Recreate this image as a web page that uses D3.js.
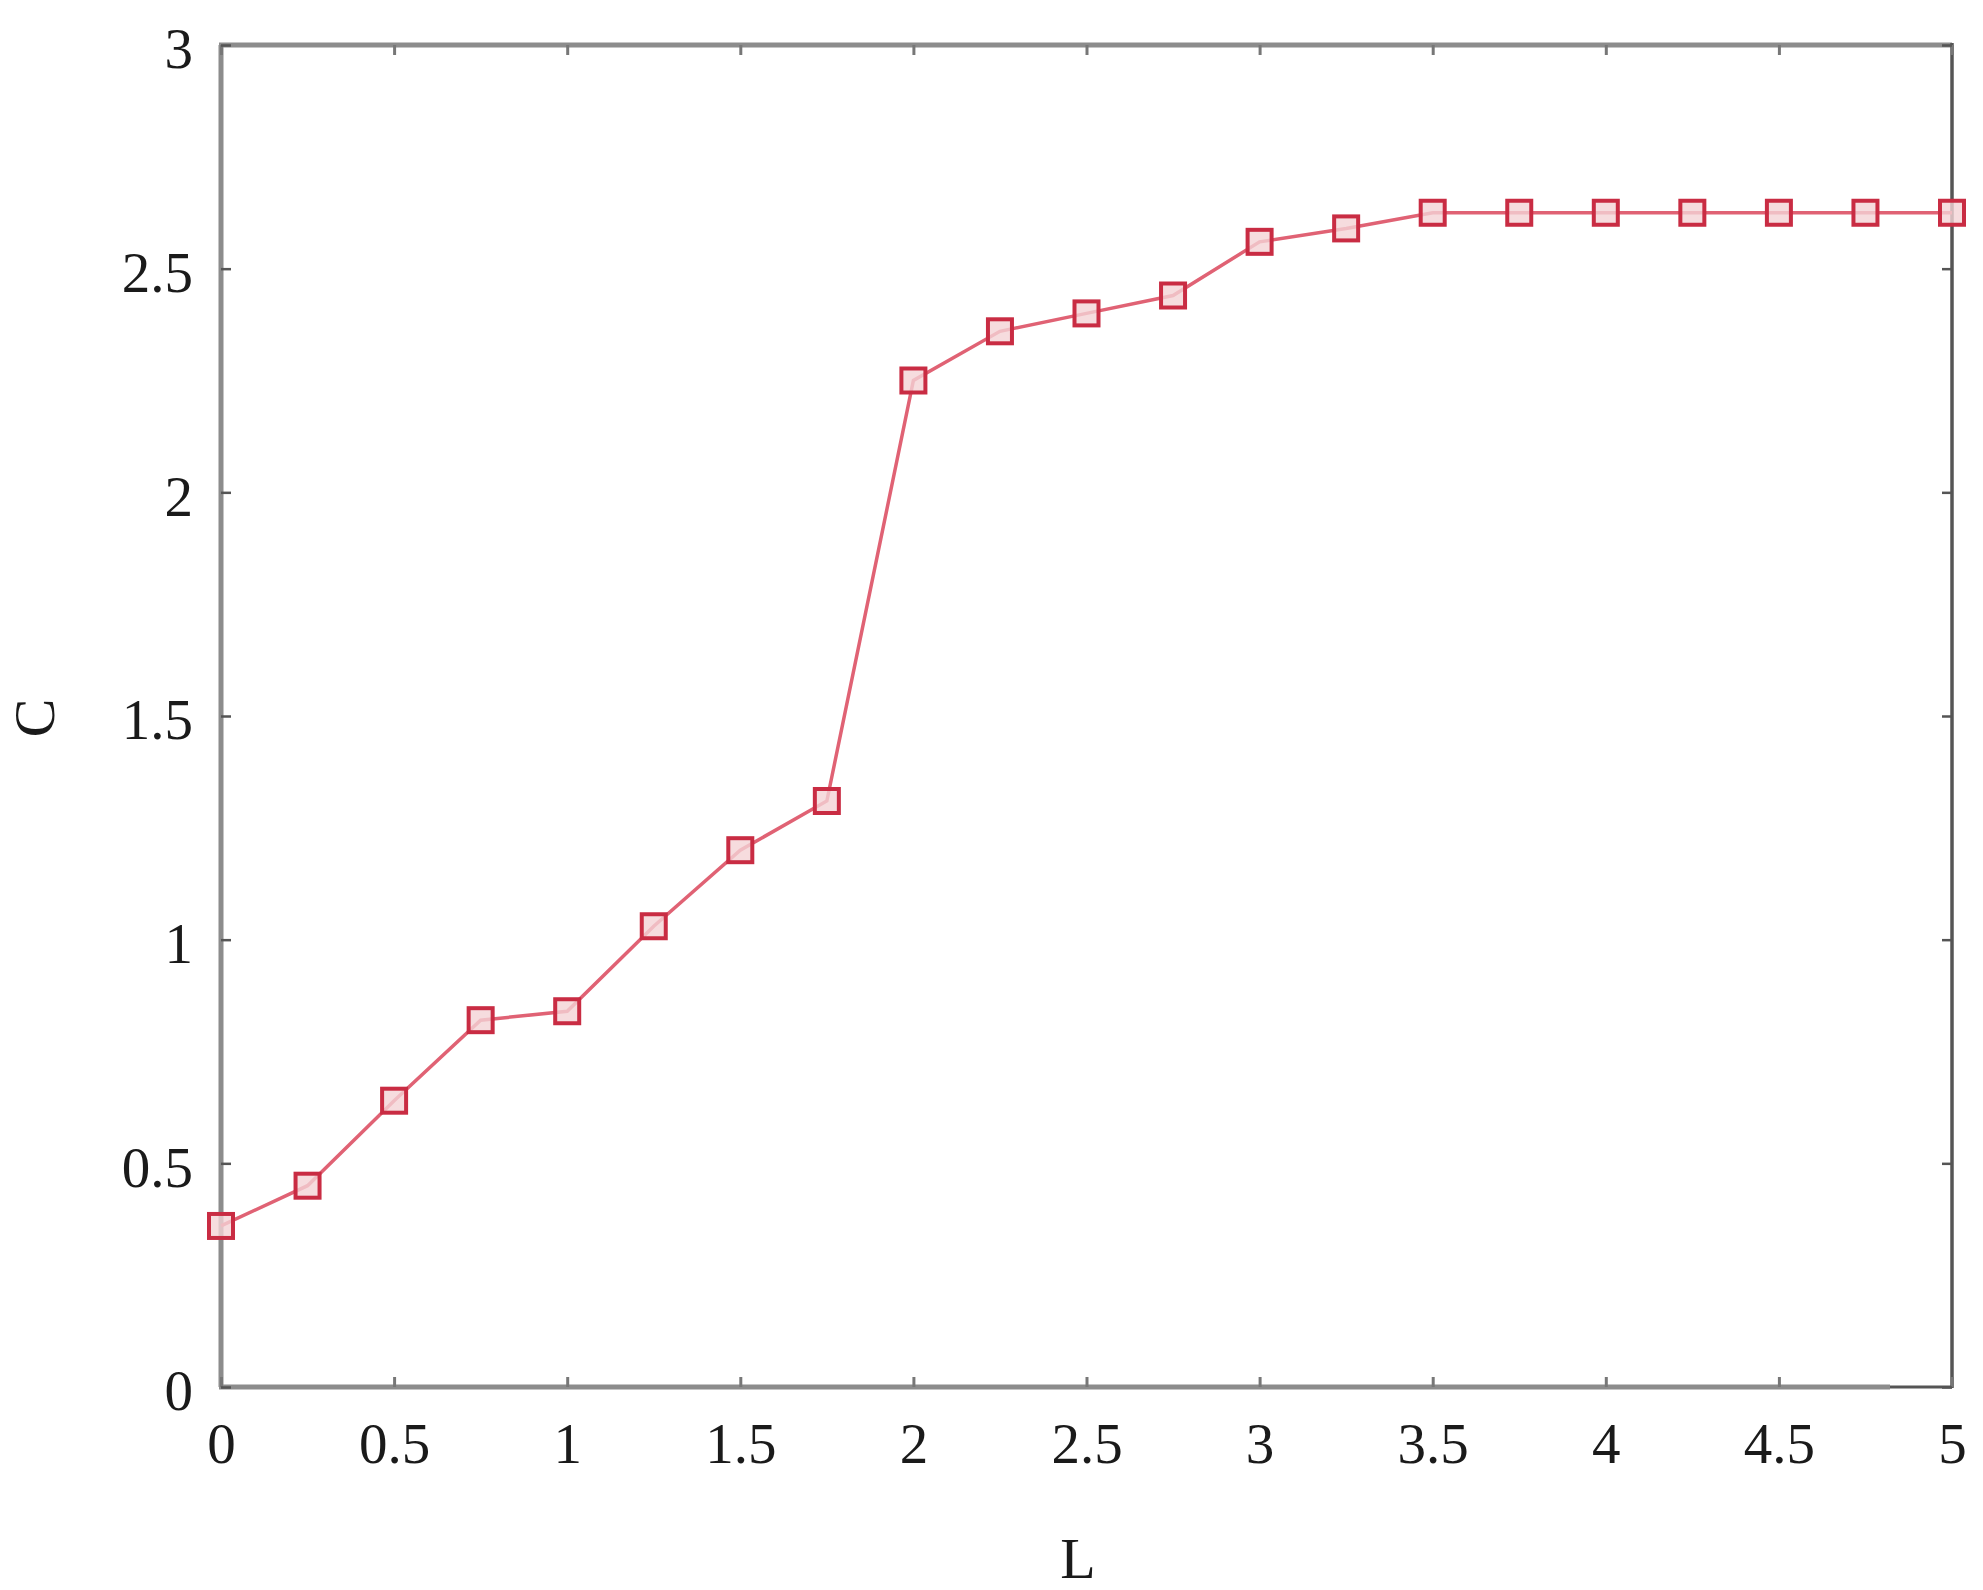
<!DOCTYPE html>
<html>
<head>
<meta charset="utf-8">
<script src="https://cdn.jsdelivr.net/npm/d3@7"></script>
<style>
  html, body { margin: 0; padding: 0; background: #fff; }
  svg { display: block; }
  text { font-family: "Liberation Serif", "DejaVu Serif", serif; fill: #1a1a1a; }
</style>
</head>
<body>
<script>
// ---- data ----
const lValues = [0, 0.25, 0.5, 0.75, 1, 1.25, 1.5, 1.75, 2, 2.25, 2.5, 2.75, 3, 3.25, 3.5, 3.75, 4, 4.25, 4.5, 4.75, 5];
const cValues = [0.36, 0.45, 0.64, 0.82, 0.84, 1.03, 1.20, 1.31, 2.25, 2.36, 2.40, 2.44, 2.56, 2.59, 2.625, 2.625, 2.625, 2.625, 2.625, 2.625, 2.625];
const xTicks = [0, 0.5, 1, 1.5, 2, 2.5, 3, 3.5, 4, 4.5, 5];
const xTickLabels = ["0", "0.5", "1", "1.5", "2", "2.5", "3", "3.5", "4", "4.5", "5"];
const yTicks = [0, 0.5, 1, 1.5, 2, 2.5, 3];
const yTickLabels = ["0", "0.5", "1", "1.5", "2", "2.5", "3"];
const xTitle = "L";
const yTitle = "C";

// ---- layout ----
const W = 1983, H = 1590;
const mLeft = 221, mRight = 1952, mTop = 45, mBottom = 1387;

const svg = d3.select("body").append("svg").attr("width", W).attr("height", H);

const x = d3.scaleLinear().domain([0, 5]).range([mLeft, mRight]);
const y = d3.scaleLinear().domain([0, 3]).range([mBottom, mTop]);

const fontSize = 57;

// frame
const frameGray = "#8c8c8c";
svg.append("line").attr("x1", x(0)).attr("x2", x(0)).attr("y1", mTop).attr("y2", mBottom)
  .attr("stroke", frameGray).attr("stroke-width", 5);
svg.append("line").attr("x1", mLeft - 2).attr("x2", mRight).attr("y1", mTop).attr("y2", mTop)
  .attr("stroke", frameGray).attr("stroke-width", 5);
svg.append("line").attr("x1", mLeft - 2).attr("x2", 1890).attr("y1", mBottom).attr("y2", mBottom)
  .attr("stroke", frameGray).attr("stroke-width", 5);
svg.append("line").attr("x1", 1890).attr("x2", mRight).attr("y1", mBottom).attr("y2", mBottom)
  .attr("stroke", "#555").attr("stroke-width", 3);
svg.append("line").attr("x1", mRight).attr("x2", mRight).attr("y1", mTop - 2).attr("y2", mBottom + 1)
  .attr("stroke", "#555").attr("stroke-width", 3.5);

// axes via d3 (inner ticks)
const xAxis = d3.axisBottom(x).tickValues(xTicks).tickSize(-10)
  .tickFormat((d, i) => xTickLabels[i]).tickPadding(36);
const gx = svg.append("g").attr("transform", `translate(0,${mBottom})`).call(xAxis);
gx.select(".domain").remove();
gx.selectAll(".tick line").attr("stroke", "#777").attr("stroke-width", 3);
gx.selectAll(".tick text").style("font-family", '"Liberation Serif", serif')
  .attr("font-size", fontSize).attr("fill", "#1a1a1a").attr("dy", "0.71em");

const xAxisTop = d3.axisTop(x).tickValues(xTicks).tickSize(-10).tickFormat("");
const gxt = svg.append("g").attr("transform", `translate(0,${mTop})`).call(xAxisTop);
gxt.select(".domain").remove();
gxt.selectAll(".tick line").attr("stroke", "#777").attr("stroke-width", 3);

const yAxis = d3.axisLeft(y).tickValues(yTicks).tickSize(-10)
  .tickFormat((d, i) => yTickLabels[i]).tickPadding(28);
const gy = svg.append("g").attr("transform", `translate(${x(0)},0)`).call(yAxis);
gy.select(".domain").remove();
gy.selectAll(".tick line").attr("stroke", "#555").attr("stroke-width", 2.5);
gy.selectAll(".tick text").style("font-family", '"Liberation Serif", serif')
  .attr("font-size", fontSize).attr("fill", "#1a1a1a").attr("dy", "0.4em");

const yAxisR = d3.axisRight(y).tickValues(yTicks).tickSize(-10).tickFormat("");
const gyr = svg.append("g").attr("transform", `translate(${mRight},0)`).call(yAxisR);
gyr.select(".domain").remove();
gyr.selectAll(".tick line").attr("stroke", "#555").attr("stroke-width", 2.5);

// titles
svg.append("text").attr("x", 1078).attr("y", 1578).attr("text-anchor", "middle")
  .attr("font-size", 58).text(xTitle);
svg.append("text").attr("transform", "translate(54,718) rotate(-90)").attr("text-anchor", "middle")
  .attr("font-size", 58).text(yTitle);

// data line
const pts = lValues.map((l, i) => [l, cValues[i]]);
svg.append("path").datum(pts)
  .attr("fill", "none").attr("stroke", "#e06274").attr("stroke-width", 3.5)
  .attr("d", d3.line().x(d => x(d[0])).y(d => y(d[1])));

// markers
const ms = 24;
svg.selectAll("rect.mk").data(pts).enter().append("rect")
  .attr("class", "mk")
  .attr("x", d => x(d[0]) - ms / 2).attr("y", d => y(d[1]) - ms / 2)
  .attr("width", ms).attr("height", ms)
  .attr("fill", "#f4d3d6").attr("fill-opacity", 0.8)
  .attr("stroke", "#c92c43").attr("stroke-width", 4);
</script>
</body>
</html>
